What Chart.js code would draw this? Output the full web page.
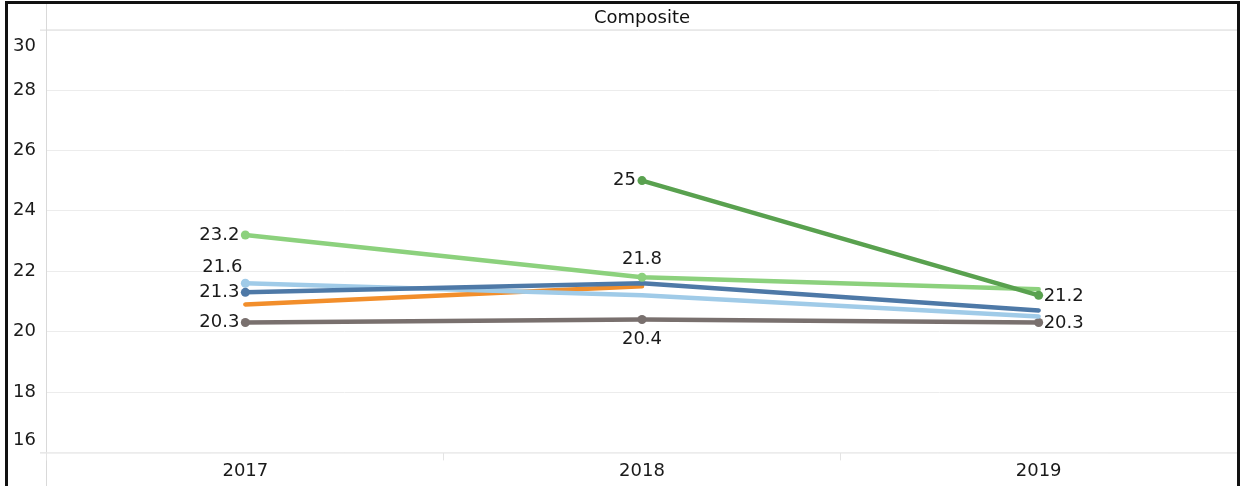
<!DOCTYPE html>
<html>
<head>
<meta charset="utf-8">
<script src="https://cdn.jsdelivr.net/npm/chart.js@4.4.0/dist/chart.umd.min.js"></script>
<style>
    html, body { margin: 0; padding: 0; background: #fff; }
    #wrap {
        position: absolute;
        left: 5px;
        top: 1px;
        width: 1229px;
        height: 485px;
        border: 3px solid #111;
        border-bottom: none;
    }
    #compositeChart { display: block; }
</style>
</head>
<body>
<div id="wrap"><canvas id="compositeChart" width="1229" height="485"></canvas></div>
<script>
// data
const years = ['2017', '2018', '2019'];
const yTicks = [16, 18, 20, 22, 24, 26, 28, 30];
const lightGreen = [23.2, 21.8, 21.4];
const darkGreen = [null, 25, 21.2];
const darkBlue = [21.3, 21.6, 20.7];
const lightBlue = [21.6, 21.2, 20.5];
const orange = [20.9, 21.5, null];
const grey = [20.3, 20.4, 20.3];

// where each value label sits (null = no label, no dot)
const labelPos = {
    darkGreen: [null, 'left', 'right'],
    lightGreen: ['left', 'above', null],
    darkBlue: ['left', null, null],
    lightBlue: ['aboveLeft', null, null],
    orange: [null, null, null],
    grey: ['left', 'below', 'right']
};

function series(label, key, data, color) {
    return {
        label: label,
        data: data,
        borderColor: color,
        backgroundColor: color,
        borderWidth: 4.5,
        tension: 0,
        borderJoinStyle: 'round',
        borderCapStyle: 'round',
        pointRadius: labelPos[key].map(p => p ? 4.5 : 0),
        pointHoverRadius: 4.5,
        pointBorderWidth: 0,
        labelPos: labelPos[key]
    };
}

const fontFamily = '"DejaVu Sans", Verdana, sans-serif';

const framePlugin = {
    id: 'frame',
    beforeDraw(chart) {
        const ctx = chart.ctx;
        const a = chart.chartArea;
        ctx.save();
        ctx.lineWidth = 1;
        ctx.strokeStyle = '#d9d9d9';
        ctx.beginPath();
        ctx.moveTo(a.left - 0.5, 0);
        ctx.lineTo(a.left - 0.5, chart.height);
        ctx.moveTo(a.left - 7, a.top + 0.5);
        ctx.lineTo(a.right, a.top + 0.5);
        ctx.moveTo(a.left - 7, a.bottom + 0.5);
        ctx.lineTo(a.right, a.bottom + 0.5);
        ctx.stroke();
        ctx.restore();
    },
    afterDraw(chart) {
        const ctx = chart.ctx;
        const a = chart.chartArea;
        const y = chart.scales.y;
        ctx.save();
        ctx.font = '18px ' + fontFamily;
        ctx.fillStyle = '#1a1a1a';
        ctx.textAlign = 'left';
        ctx.textBaseline = 'middle';
        y.ticks.forEach(t => {
            let py = y.getPixelForValue(t.value);
            py = Math.min(Math.max(py, a.top + 17), a.bottom - 12);
            ctx.fillText(String(t.value), 5, py);
        });
        ctx.restore();
    },
    afterDatasetsDraw(chart) {
        const ctx = chart.ctx;
        ctx.save();
        ctx.font = '18px ' + fontFamily;
        ctx.fillStyle = '#1a1a1a';
        ctx.textBaseline = 'middle';
        chart.data.datasets.forEach((ds, i) => {
            const meta = chart.getDatasetMeta(i);
            ds.labelPos.forEach((pos, j) => {
                if (!pos || ds.data[j] == null) return;
                const pt = meta.data[j];
                const txt = ds.data[j].toFixed(1).replace(/\.0$/, '');
                if (pos === 'left') {
                    ctx.textAlign = 'right';
                    ctx.fillText(txt, pt.x - 6, pt.y);
                } else if (pos === 'right') {
                    ctx.textAlign = 'left';
                    ctx.fillText(txt, pt.x + 5, pt.y + 1);
                } else if (pos === 'above') {
                    ctx.textAlign = 'center';
                    ctx.fillText(txt, pt.x, pt.y - 18);
                } else if (pos === 'below') {
                    ctx.textAlign = 'center';
                    ctx.fillText(txt, pt.x, pt.y + 20);
                } else if (pos === 'aboveLeft') {
                    ctx.textAlign = 'right';
                    ctx.fillText(txt, pt.x - 3, pt.y - 16);
                }
            });
        });
        ctx.restore();
    }
};

document.addEventListener('DOMContentLoaded', function() {
    const ctx = document.getElementById('compositeChart');
    new Chart(ctx, {
        type: 'line',
        data: {
            labels: years,
            datasets: [
                series('Series 1', 'darkGreen', darkGreen, '#59a14f'),
                series('Series 2', 'lightGreen', lightGreen, '#8cd17d'),
                series('Series 3', 'darkBlue', darkBlue, '#4e79a7'),
                series('Series 4', 'lightBlue', lightBlue, '#a0cbe8'),
                series('Series 5', 'orange', orange, '#f28e2b'),
                series('Series 6', 'grey', grey, '#79706e')
            ]
        },
        options: {
            responsive: false,
            animation: false,
            layout: {
                autoPadding: false,
                padding: { top: 0, left: 39, right: 0, bottom: 7 }
            },
            plugins: {
                legend: { display: false },
                tooltip: { enabled: false },
                title: {
                    display: true,
                    text: 'Composite',
                    fullSize: false,
                    color: '#111',
                    font: { family: fontFamily, size: 18, weight: 'normal' },
                    padding: { top: 4, bottom: 0 }
                }
            },
            scales: {
                x: {
                    offset: true,
                    grid: {
                        display: true,
                        drawOnChartArea: false,
                        drawTicks: true,
                        tickLength: 8,
                        color: '#e4e4e4',
                        offset: true
                    },
                    border: { display: false },
                    ticks: {
                        color: '#1a1a1a',
                        padding: 0,
                        maxRotation: 0,
                        font: { family: fontFamily, size: 18 }
                    }
                },
                y: {
                    min: 16,
                    max: 30,
                    afterBuildTicks: function(scale) {
                        scale.ticks = yTicks.map(v => ({ value: v }));
                    },
                    grid: {
                        color: '#ececec',
                        drawTicks: false
                    },
                    border: { display: false },
                    ticks: { display: false }
                }
            }
        },
        plugins: [framePlugin]
    });
});
</script>
</body>
</html>
